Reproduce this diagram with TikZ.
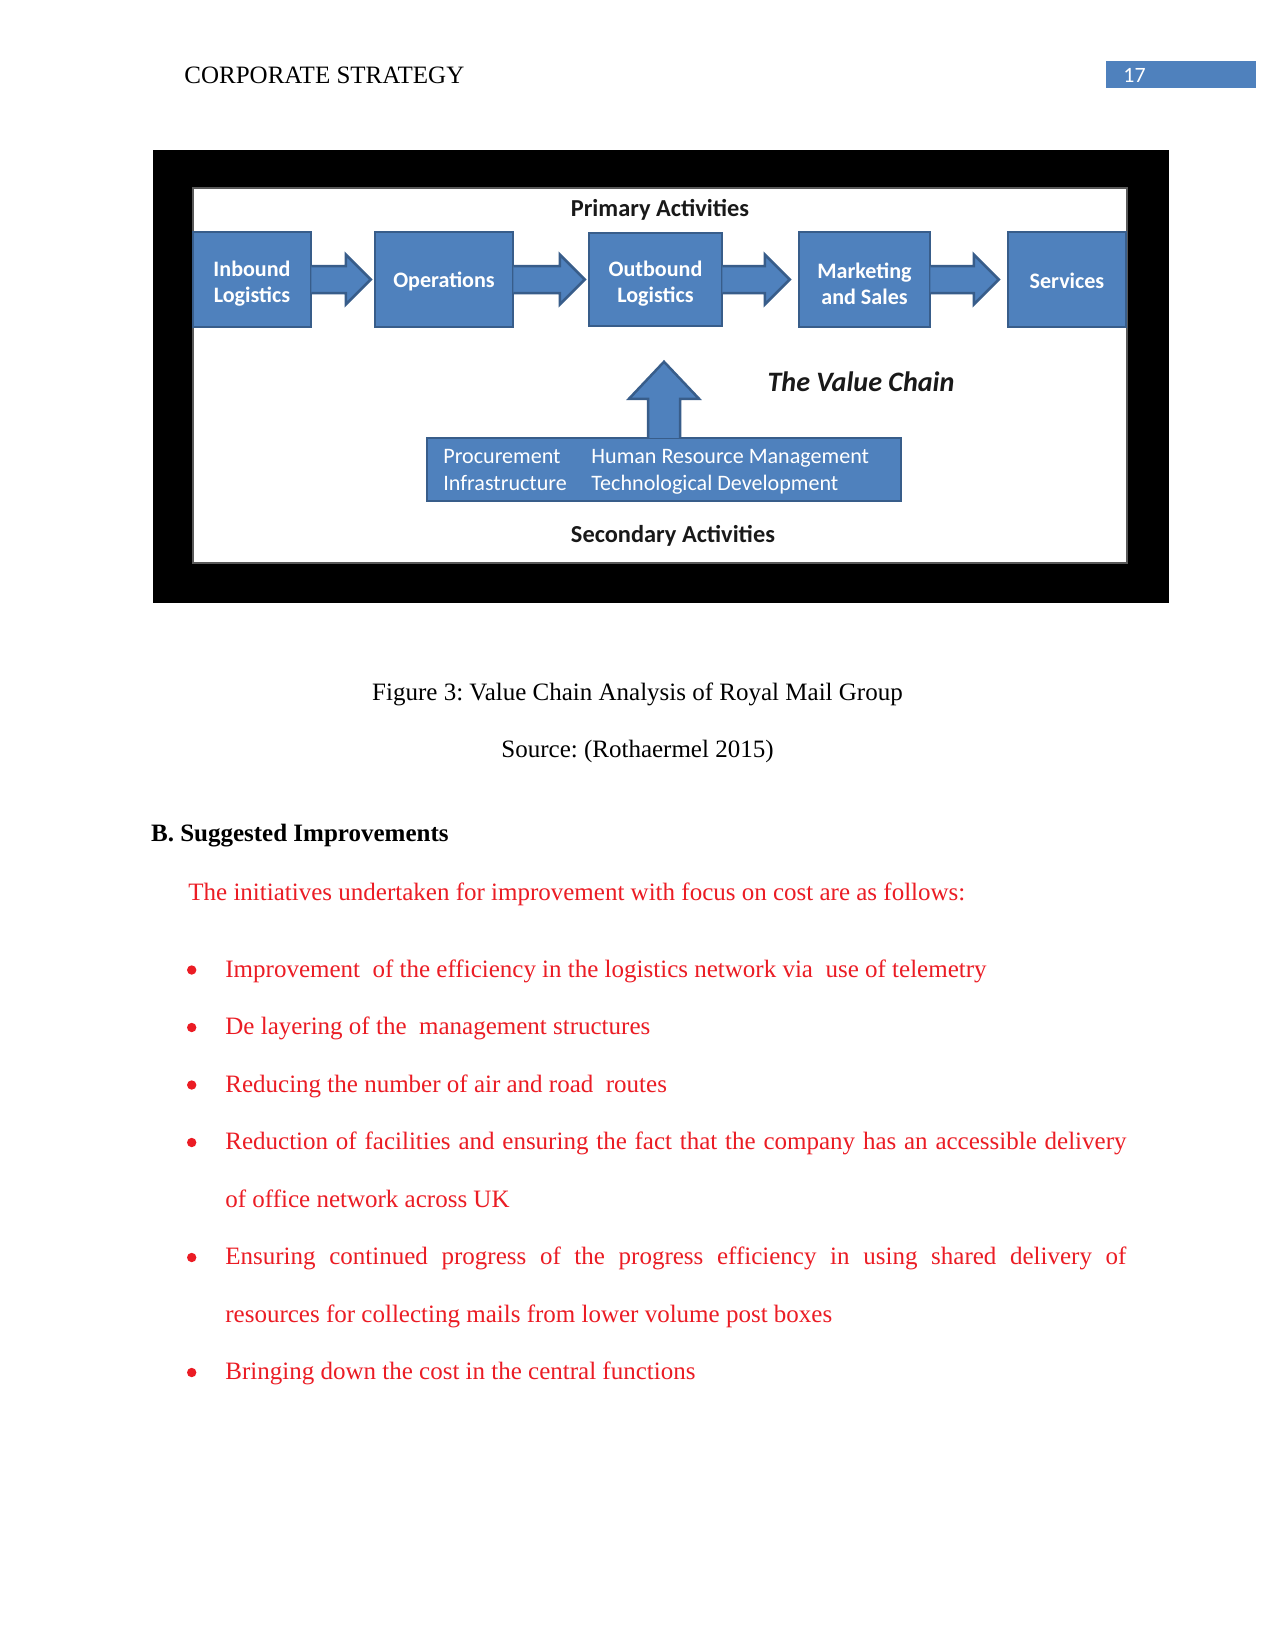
\documentclass[tikz,border=0pt]{standalone}
\usepackage{fontspec}
\setmainfont{Liberation Serif}
\newfontfamily\dfont{Carlito}
\usetikzlibrary{calc,fit}
\definecolor{vcblue}{HTML}{4F81BD}
\definecolor{vcline}{HTML}{385D8A}
\definecolor{redtxt}{RGB}{235,28,36}
\tikzset{
 pbox/.style={draw=vcline, fill=vcblue, line width=1.2bp, inner sep=0pt},
 ptext/.style={inner sep=0pt, text=white, align=center,
   font=\dfont\bfseries\fontsize{10.6bp}{12.6bp}\selectfont},
 blockarr/.style={draw=vcline, fill=vcblue, line width=1.2bp, line join=miter},
 dlabel/.style={inner sep=0pt, anchor=base, text=black!90,
   font=\dfont\bfseries\fontsize{11.7bp}{14bp}\selectfont},
 stext/.style={inner sep=0pt, anchor=base west, text=white,
   font=\dfont\fontsize{10.6bp}{13bp}\selectfont},
 body/.style={inner sep=0pt, anchor=base west, font=\fontsize{12bp}{14bp}\selectfont\frenchspacing},
 redl/.style={body, text=redtxt},
 bul/.style={circle, fill=redtxt, inner sep=0pt, minimum size=4.5bp},
}
\newcommand\blockarrow[3]{%
 \filldraw[blockarr] ($(#1.east)+(-1,-13.5)$) -- ($(#2.west)+(-#3-25,-13.5)$)
   -- ($(#2.west)+(-#3-25,-25)$) -- ($(#2.west)+(-#3,0)$) -- ($(#2.west)+(-#3-25,25)$)
   -- ($(#2.west)+(-#3-25,13.5)$) -- ($(#1.east)+(-1,13.5)$);}
\begin{document}
\begin{tikzpicture}[x=0.48bp,y=-0.48bp]
\useasboundingbox (0,0) rectangle (1275,1650);
\fill[white] (0,0) rectangle (1275,1650);
% header
\node[body] (hdr) at (184,83.3) {CORPORATE STRATEGY};
\node[fill=vcblue, inner sep=0pt, fit={(1106,61) (1256,88)}] (pg) {};
\node[inner sep=0pt, anchor=base west, text=white, font=\dfont\fontsize{10.5bp}{12bp}\selectfont] (pgnum) at (1123,82) {17};
% frame
\node[fill=black, inner sep=0pt, fit={(153,150) (1169,603)}] (frame) {};
\node[fill=white, draw=black!65, line width=0.8bp, inner sep=0pt, fit={(193,188) (1127,563)}] (panel) {};
% primary activities
\node[pbox, fit={(193,232) (311,327)}] (inb) {};
\node[pbox, fit={(375,232) (513,327)}] (ops) {};
\node[pbox, fit={(589,233) (722,326)}] (outb) {};
\node[pbox, fit={(799,232) (930,327)}] (mkt) {};
\node[pbox, fit={(1008,232) (1126,327)}] (svc) {};
\node[ptext] (inbt) at ($(inb.center)+(0,4)$) {Inbound\\Logistics};
\node[ptext] (opst) at ($(ops.center)+(0,2)$) {Operations};
\node[ptext] (outbt) at ($(outb.center)+(0,4)$) {Outbound\\Logistics};
\node[ptext] (mktt) at ($(mkt.center)+(0,4)$) {Marketing\\and Sales};
\node[ptext] (svct) at ($(svc.center)+(0,1)$) {Services};
\blockarrow{inb}{ops}{3}
\blockarrow{ops}{outb}{3}
\blockarrow{outb}{mkt}{8}
\blockarrow{mkt}{svc}{8}
\node[dlabel] (prim) at (660,216) {Primary Activities};
\node[inner sep=0pt, anchor=base, text=black!90, font=\dfont\bfseries\itshape\fontsize{13.5bp}{16bp}\selectfont] (vc) at (861,391) {The Value Chain};
% secondary activities
\node[pbox, fit={(427,438) (901,501)}] (sec) {};
\filldraw[blockarr] ($(sec.north)+(-16,1)$) -- ($(sec.north)+(-16,-38)$) -- ($(sec.north)+(-35,-38)$)
  -- ($(sec.north)+(0,-75)$) -- ($(sec.north)+(35,-38)$) -- ($(sec.north)+(16,-38)$) -- ($(sec.north)+(16,1)$);
\node[stext] (proc) at (443,463) {Procurement};
\node[stext] (infra) at (443,490) {Infrastructure};
\node[stext] (hrm) at (591,463) {Human Resource Management};
\node[stext] (tech) at (591,490) {Technological Development};
\node[dlabel] (secl) at (673,542) {Secondary Activities};
% caption
\node[body, anchor=base] (cap1) at (637.5,700) {Figure 3: Value Chain Analysis of Royal Mail Group};
\node[body, anchor=base] (cap2) at (637.5,757) {Source: (Rothaermel 2015)};
% section
\node[body, font=\bfseries\fontsize{12bp}{14bp}\selectfont] (secB) at (150.7,841.7) {B. Suggested Improvements};
\node[redl] (intro) at (188,900) {The initiatives undertaken for improvement with focus on cost are as follows:};
% bullets
\node[bul] (b1) at (191.7,970) {};
\node[redl] (l1) at (225,977.3) {Improvement\ \ of the efficiency in the logistics network via\ \ use of telemetry};
\node[bul] (b2) at (191.7,1027.5) {};
\node[redl] (l2) at (225,1034.8) {De layering of the\ \ management structures};
\node[bul] (b3) at (191.7,1085) {};
\node[redl] (l3) at (225,1092.3) {Reducing the number of air and road\ \ routes};
\node[bul] (b4) at (191.7,1142.5) {};
\node[redl] (l4) at (225,1149.8) {\makebox[432.5bp][s]{Reduction of facilities and ensuring the fact that the company has an accessible delivery}};
\node[redl] (l5) at (225,1207.3) {of office network across UK};
\node[bul] (b6) at (191.7,1257.5) {};
\node[redl] (l6) at (225,1264.8) {\makebox[432.5bp][s]{Ensuring continued progress of the progress efficiency in using shared delivery of}};
\node[redl] (l7) at (225,1322.3) {resources for collecting mails from lower volume post boxes};
\node[bul] (b8) at (191.7,1372.5) {};
\node[redl] (l8) at (225,1379.8) {Bringing down the cost in the central functions};
\end{tikzpicture}
\end{document}
